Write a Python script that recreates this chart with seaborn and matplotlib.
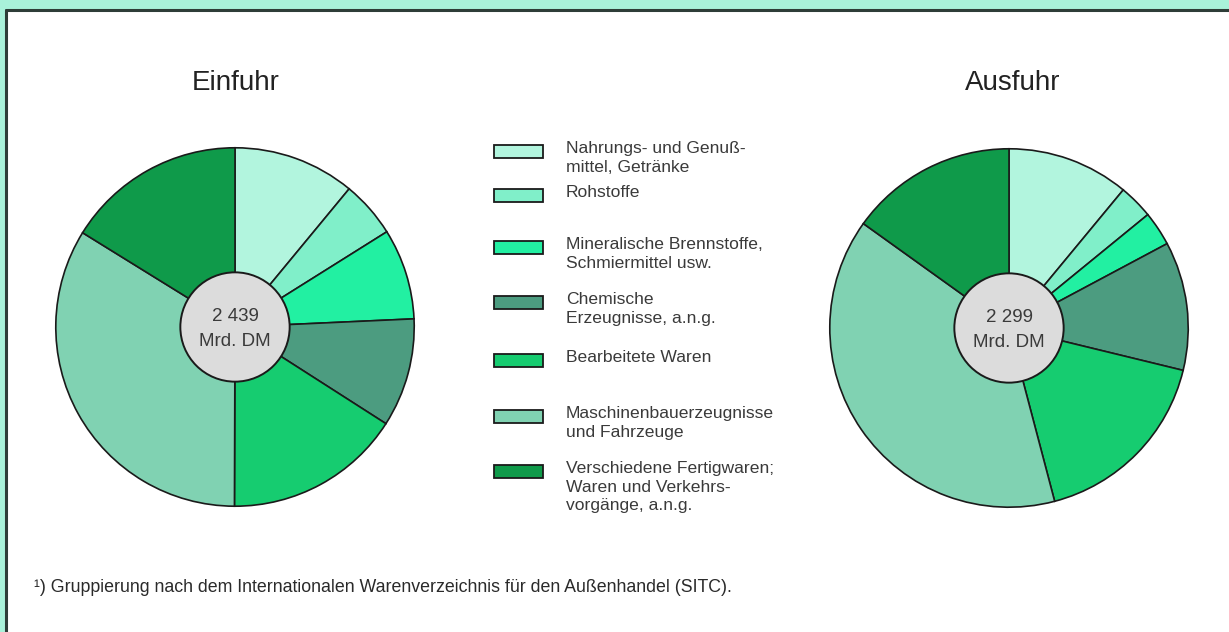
import matplotlib
matplotlib.use("Agg")
import matplotlib.pyplot as plt
from matplotlib.patches import Rectangle, Circle
import seaborn as sns

# ---------------- data ----------------
categories = [
    "Nahrungs- und Genußmittel, Getränke",
    "Rohstoffe",
    "Mineralische Brennstoffe, Schmiermittel usw.",
    "Chemische Erzeugnisse, a.n.g.",
    "Bearbeitete Waren",
    "Maschinenbauerzeugnisse und Fahrzeuge",
    "Verschiedene Fertigwaren; Waren und Verkehrsvorgänge, a.n.g.",
]
legend_labels = [
    "Nahrungs- und Genuß-\nmittel, Getränke",
    "Rohstoffe",
    "Mineralische Brennstoffe,\nSchmiermittel usw.",
    "Chemische\nErzeugnisse, a.n.g.",
    "Bearbeitete Waren",
    "Maschinenbauerzeugnisse\nund Fahrzeuge",
    "Verschiedene Fertigwaren;\nWaren und Verkehrs-\nvorgänge, a.n.g.",
]
einfuhr_share = [11.0, 5.1, 8.2, 9.8, 16.0, 33.8, 16.2]
ausfuhr_share = [11.0, 3.1, 3.1, 11.6, 17.1, 39.0, 15.1]
pie_titles = ["Einfuhr", "Ausfuhr"]
totals = ["2 439", "2 299"]
total_unit = "Mrd. DM"
footnote = "¹) Gruppierung nach dem Internationalen Warenverzeichnis für den Außenhandel (SITC)."

# ---------------- style ----------------
colors = ["#b2f5de", "#80efc9", "#22f0a2", "#4c9c80", "#16cc70", "#80d2b2", "#0f9a4a"]
mint = "#a9f2da"
edge = "#1a1a1a"
text_col = "#3a3a3a"

sns.set_theme(style="white")
plt.rcParams["font.family"] = ["Liberation Sans", "DejaVu Sans"]

W, H = 1229, 632
fig = plt.figure(figsize=(W / 100, H / 100), dpi=100)
fig.patch.set_facecolor(mint)

# white panel with dark border (top & left)
fig.add_artist(Rectangle((6 / W, 0), 1, (H - 10) / H, transform=fig.transFigure,
                         facecolor="white", edgecolor="none", zorder=0))
fig.add_artist(plt.Line2D([6 / W, 1], [(H - 10) / H] * 2, transform=fig.transFigure,
                          color="#2e3d38", lw=2.2, zorder=1))
fig.add_artist(plt.Line2D([6 / W] * 2, [0, (H - 10) / H], transform=fig.transFigure,
                          color="#2e3d38", lw=2.2, zorder=1))

# ---------------- pies ----------------
pie_boxes = [(54, 146, 362), (828, 147, 362)]  # left, top, size in px
title_x = [236, 1013]
for share, title, total, (px, py, sz), tx in zip([einfuhr_share, ausfuhr_share], pie_titles,
                                                 totals, pie_boxes, title_x):
    ax = fig.add_axes([px / W, (H - py - sz) / H, sz / W, sz / H])
    ax.pie(share, colors=colors, startangle=90, counterclock=False, radius=1.0,
           wedgeprops=dict(edgecolor=edge, linewidth=1.2))
    ax.add_patch(Circle((0, 0), 0.305, facecolor="#dcdcdc", edgecolor=edge, lw=1.4, zorder=5))
    ax.text(0, 0.06, total, ha="center", va="center", fontsize=13.5, color=text_col, zorder=6)
    ax.text(0, -0.08, total_unit, ha="center", va="center", fontsize=13.5, color=text_col, zorder=6)
    ax.set_xlim(-1.01, 1.01)
    ax.set_ylim(-1.01, 1.01)
    ax.set_aspect("equal")
    ax.axis("off")
    ax.text((tx - px) / sz, (H - 83 - (H - py - sz)) / sz, title, transform=ax.transAxes,
            ha="center", va="center", fontsize=20, color="#222222")

# ---------------- legend & footnote (overlay axes in px) ----------------
lax = fig.add_axes([0, 0, 1, 1])
lax.set_xlim(0, W)
lax.set_ylim(H, 0)
lax.axis("off")
lax.patch.set_alpha(0)
legend_y = [151, 195, 247, 302, 360, 416, 471]
for lab, col, y in zip(legend_labels, colors, legend_y):
    lax.add_patch(Rectangle((494, y - 6.5), 49, 13, facecolor=col, edgecolor=edge, lw=1.3))
    lax.text(566, y - 10, lab, ha="left", va="top", fontsize=12.6, color=text_col,
             linespacing=1.3)

lax.text(34, 588, footnote, ha="left", va="center", fontsize=12.8, color="#2a2a2a")

fig.savefig("out.png", dpi=100, facecolor=fig.get_facecolor())
